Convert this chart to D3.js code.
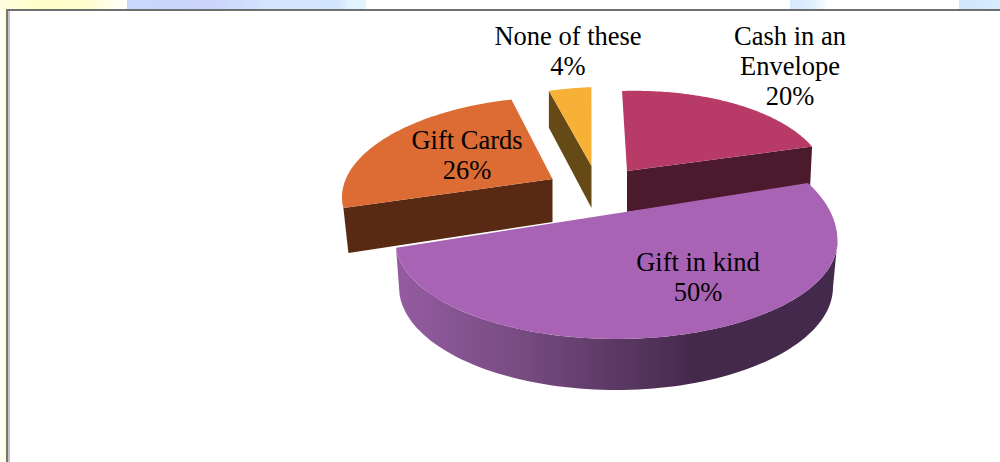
<!DOCTYPE html>
<html><head><meta charset="utf-8">
<script src="https://cdn.jsdelivr.net/npm/d3@7"></script>
<style>html,body{margin:0;padding:0;background:#fff;overflow:hidden}svg{display:block}</style>
</head><body><svg id="c" width="1000" height="462"></svg>
<script>
const categories = ["Cash in an Envelope", "Gift in kind", "Gift Cards", "None of these"];
const values = [20, 50, 26, 4];
const topColors = ["#b73b66", "#a963b5", "#dd6b34", "#f6b136"];
const wallColors = ["#4b1a2c", "#6f4678", "#582a13", "#654a16"];
const labelLines = [["Cash in an", "Envelope", "20%"], ["Gift in kind", "50%"], ["Gift Cards", "26%"], ["None of these", "4%"]];

// layout: rim ellipse per slice, its screen-angle range (deg), apex and wall offsets
const geom = [
  {cx:622, cy:189, rx:205, ry:98, tilt:-.03, phi:[0,68],    apex:[627,171], apexDrop:41, rimShift:[-2,40], faceAt:1},
  {cx:616.5, cy:241, rx:221, ry:98, ryUp:116, tilt:0, phi:[60,266], wallPhi:[90,266], apex:[622,212.5], bottom:{cx:616, cy:287, rx:217, ry:103, tilt:0}},
  {cx:547, cy:191, rx:205, ry:94, tilt:-.03, phi:[263.3,350], apex:[552.5,179], apexDrop:43, rimShift:[5,45], faceAt:0},
  {cx:595, cy:183, rx:205, ry:96, tilt:-.03, phi:[347,359],  apex:[591.5,166], apexDrop:42, rimShift:[0,37], faceAt:0}
];
const labelPos = [[790,45],[698,271],[467,149],[568,45]];

const svg = d3.select("#c");
const defs = svg.append("defs");
function grad(id, stops){
  const g = defs.append("linearGradient").attr("id", id);
  stops.forEach(s => g.append("stop").attr("offset", s[0]).attr("stop-color", s[1]));
}
grad("yel", [[0,"#fffde0"],[.3,"#ffffc8"],[.7,"#fffcd0"],[1,"#ffffff"]]);
grad("blu", [[0,"#c8d8fb"],[.35,"#ccd4fb"],[.6,"#d4e4fd"],[.88,"#d0e4fc"],[.93,"#e2f4ff"],[1,"#e0f6ff"]]);
grad("blu2", [[0,"#d8e8ff"],[.6,"#e0f0ff"],[1,"#ffffff"]]);
grad("blu3", [[0,"#cfe6fd"],[1,"#d8ecfe"]]);
grad("wall", [[0,"#955ca1"],[.3,"#754a7f"],[.68,"#44294b"],[1,"#432a4c"]]);

const band = (x,y,w,h,f) => svg.append("rect").attr("x",x).attr("y",y).attr("width",w).attr("height",h).attr("fill",f);
band(0,0,127,9,"url(#yel)");
band(127,0,239,9,"url(#blu)");
band(790,0,38,9,"url(#blu2)");
band(959,0,41,9,"url(#blu3)");
band(0,9,4,453,"#fffff4");
band(4,9,2,453,"#ffffd8");
band(6,9,994,2,"#6f6f6f");
band(6,9,2,453,"#757575");
band(8,11,2,451,"#c4c4c4");

const arcs = d3.pie().sort(null).value(d => d)(values);
const line = d3.line();

function pt(e, deg){
  const r = deg*Math.PI/180, X = e.rx*Math.sin(r), c = Math.cos(r);
  const ry = (c > 0 && e.ryUp) ? e.ryUp : e.ry;
  return [e.cx + X, e.cy - ry*c + e.tilt*X];
}
function rim(e, scale, a, n){
  return d3.range(n+1).map(i => pt(e, scale(a.startAngle + (a.endAngle-a.startAngle)*i/n)));
}

[0, 3, 1, 2].forEach(i => {
  const g = geom[i], a = arcs[i];
  const phi = d3.scaleLinear().domain([a.startAngle, a.endAngle]).range(g.phi);
  const top = rim(g, phi, a, 90);
  if (g.bottom) {
    const wp = d3.scaleLinear().domain([a.startAngle, a.endAngle]).range(g.wallPhi);
    const wallTop = rim(g, wp, a, 90);
    const low = rim(g.bottom, wp, a, 90);
    svg.append("path").attr("d", line(wallTop.concat(low.reverse()))+"Z").attr("fill","url(#wall)");
  } else {
    const p = top[g.faceAt ? top.length-1 : 0];
    svg.append("path").attr("d", line([g.apex, p, [p[0]+g.rimShift[0], p[1]+g.rimShift[1]], [g.apex[0], g.apex[1]+g.apexDrop]])+"Z")
      .attr("fill", wallColors[i]);
  }
  svg.append("path").attr("d", line([g.apex].concat(top))+"Z").attr("fill", topColors[i]);
});

labelLines.forEach((lines, i) => {
  const t = svg.append("text").attr("text-anchor","middle")
    .attr("font-family","'Liberation Serif','Times New Roman',serif")
    .attr("font-size",26.5).attr("fill","#000");
  lines.forEach((l, j) => t.append("tspan").attr("x", labelPos[i][0]).attr("y", labelPos[i][1] + j*30).text(l));
});
</script></body></html>
